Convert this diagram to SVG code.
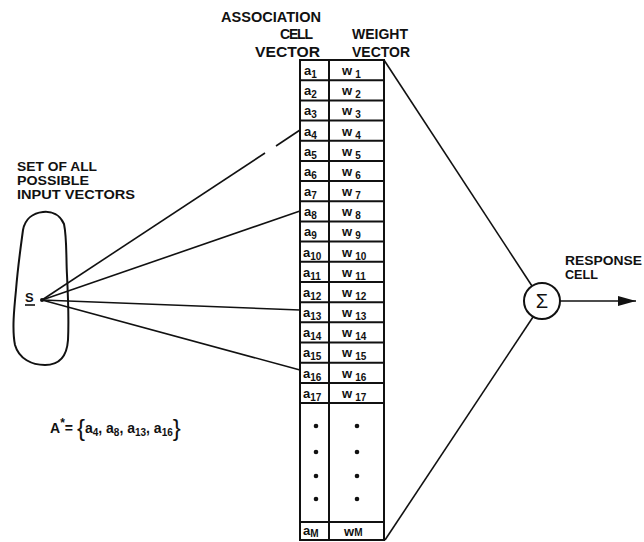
<svg xmlns="http://www.w3.org/2000/svg" width="644" height="542" viewBox="0 0 644 542">
<defs>
<style>
.lbl{font-family:"Liberation Sans",Arial,sans-serif;font-size:13px;font-weight:bold;fill:#111}
.cl{font-family:"Liberation Sans",Arial,sans-serif;font-size:13px;font-weight:bold;fill:#111}
.sub{font-size:10px}
.ln{stroke:#111;stroke-width:1.6;fill:none}
.box{stroke:#111;stroke-width:2;fill:none}
.dot{fill:#111}
</style>
<marker id="arr" markerWidth="18" markerHeight="10" refX="18" refY="5" orient="auto" markerUnits="userSpaceOnUse">
<path d="M0,0 L18,5 L0,10 Z" fill="#111"/>
</marker>
</defs>
<rect width="644" height="542" fill="#fff"/>

<g id="headers">
<text class="lbl" x="221" y="22" textLength="100" lengthAdjust="spacingAndGlyphs" style="font-size:14px">ASSOCIATION</text>
<text class="lbl" x="280" y="39" textLength="33" lengthAdjust="spacing" style="font-size:14px">CELL</text>
<text class="lbl" x="255" y="57" textLength="65" lengthAdjust="spacingAndGlyphs" style="font-size:14px">VECTOR</text>
<text class="lbl" x="352" y="39" textLength="56" lengthAdjust="spacingAndGlyphs" style="font-size:14px">WEIGHT</text>
<text class="lbl" x="352" y="57" textLength="58" lengthAdjust="spacingAndGlyphs" style="font-size:14px">VECTOR</text>
</g>

<g id="input-set">
<text class="lbl" x="17" y="171" textLength="80" lengthAdjust="spacingAndGlyphs" style="font-size:12px">SET OF ALL</text>
<text class="lbl" x="17" y="185" textLength="72" lengthAdjust="spacingAndGlyphs" style="font-size:12px">POSSIBLE</text>
<text class="lbl" x="17" y="199" textLength="118" lengthAdjust="spacingAndGlyphs" style="font-size:12px">INPUT VECTORS</text>
<path class="box" stroke-width="2.5" d="M43,212 C52,211 60,215 64,224 C67,238 66,258 67,275 C68,295 69,320 68,340 C67,355 60,365 45,365 C32,365 19,359 15,345 C12,330 14,310 16,290 C18,265 21,245 23,230 C25,219 33,213 43,212 Z"/>
<text class="lbl" x="25" y="302">S</text>
<line class="ln" x1="25" y1="305" x2="35" y2="305"/>
<circle class="dot" cx="42" cy="300" r="2"/>
</g>

<g id="association-vector">
<rect class="box" x="300" y="60" width="84" height="480"/>
<line class="box" x1="329" y1="60" x2="329" y2="540"/>
<g class="box">
<line x1="300" y1="80.2" x2="384" y2="80.2"/>
<line x1="300" y1="100.4" x2="384" y2="100.4"/>
<line x1="300" y1="120.5" x2="384" y2="120.5"/>
<line x1="300" y1="140.7" x2="384" y2="140.7"/>
<line x1="300" y1="160.9" x2="384" y2="160.9"/>
<line x1="300" y1="181.1" x2="384" y2="181.1"/>
<line x1="300" y1="201.3" x2="384" y2="201.3"/>
<line x1="300" y1="221.4" x2="384" y2="221.4"/>
<line x1="300" y1="241.6" x2="384" y2="241.6"/>
<line x1="300" y1="261.8" x2="384" y2="261.8"/>
<line x1="300" y1="282" x2="384" y2="282"/>
<line x1="300" y1="302.2" x2="384" y2="302.2"/>
<line x1="300" y1="322.3" x2="384" y2="322.3"/>
<line x1="300" y1="342.5" x2="384" y2="342.5"/>
<line x1="300" y1="362.7" x2="384" y2="362.7"/>
<line x1="300" y1="382.9" x2="384" y2="382.9"/>
<line x1="300" y1="403" x2="384" y2="403"/>
<line x1="300" y1="522" x2="384" y2="522"/>
</g>
<g class="cl">
<text x="304" y="75">a<tspan class="sub" dy="3">1</tspan></text>
<text x="304" y="95">a<tspan class="sub" dy="3">2</tspan></text>
<text x="304" y="115">a<tspan class="sub" dy="3">3</tspan></text>
<text x="304" y="136">a<tspan class="sub" dy="3">4</tspan></text>
<text x="304" y="156">a<tspan class="sub" dy="3">5</tspan></text>
<text x="304" y="176">a<tspan class="sub" dy="3">6</tspan></text>
<text x="304" y="196">a<tspan class="sub" dy="3">7</tspan></text>
<text x="304" y="216">a<tspan class="sub" dy="3">8</tspan></text>
<text x="304" y="236">a<tspan class="sub" dy="3">9</tspan></text>
<text x="303" y="257">a<tspan class="sub" dy="3">10</tspan></text>
<text x="303" y="277">a<tspan class="sub" dy="3">11</tspan></text>
<text x="303" y="297">a<tspan class="sub" dy="3">12</tspan></text>
<text x="303" y="317">a<tspan class="sub" dy="3">13</tspan></text>
<text x="303" y="337">a<tspan class="sub" dy="3">14</tspan></text>
<text x="303" y="357">a<tspan class="sub" dy="3">15</tspan></text>
<text x="303" y="378">a<tspan class="sub" dy="3">16</tspan></text>
<text x="303" y="398">a<tspan class="sub" dy="3">17</tspan></text>
<text x="303" y="535">a<tspan class="sub" dy="2">M</tspan></text>
</g>
<circle class="dot" cx="316" cy="426" r="2.3"/>
<circle class="dot" cx="316" cy="452" r="2.3"/>
<circle class="dot" cx="316" cy="476" r="2.3"/>
<circle class="dot" cx="316" cy="499" r="2.3"/>
</g>

<g id="weight-vector">
<g class="cl">
<text x="342" y="75">w<tspan class="sub" dx="3" dy="3">1</tspan></text>
<text x="342" y="95">w<tspan class="sub" dx="3" dy="3">2</tspan></text>
<text x="342" y="115">w<tspan class="sub" dx="3" dy="3">3</tspan></text>
<text x="342" y="136">w<tspan class="sub" dx="3" dy="3">4</tspan></text>
<text x="342" y="156">w<tspan class="sub" dx="3" dy="3">5</tspan></text>
<text x="342" y="176">w<tspan class="sub" dx="3" dy="3">6</tspan></text>
<text x="342" y="196">w<tspan class="sub" dx="3" dy="3">7</tspan></text>
<text x="342" y="216">w<tspan class="sub" dx="3" dy="3">8</tspan></text>
<text x="342" y="236">w<tspan class="sub" dx="3" dy="3">9</tspan></text>
<text x="342" y="257">w<tspan class="sub" dx="3" dy="3">10</tspan></text>
<text x="342" y="277">w<tspan class="sub" dx="3" dy="3">11</tspan></text>
<text x="342" y="297">w<tspan class="sub" dx="3" dy="3">12</tspan></text>
<text x="342" y="317">w<tspan class="sub" dx="3" dy="3">13</tspan></text>
<text x="342" y="337">w<tspan class="sub" dx="3" dy="3">14</tspan></text>
<text x="342" y="357">w<tspan class="sub" dx="3" dy="3">15</tspan></text>
<text x="342" y="378">w<tspan class="sub" dx="3" dy="3">16</tspan></text>
<text x="342" y="398">w<tspan class="sub" dx="3" dy="3">17</tspan></text>
<text x="344" y="536">w<tspan class="sub">M</tspan></text>
</g>
<circle class="dot" cx="357" cy="426" r="2.3"/>
<circle class="dot" cx="357" cy="452" r="2.3"/>
<circle class="dot" cx="357" cy="476" r="2.3"/>
<circle class="dot" cx="357" cy="499" r="2.3"/>
</g>

<g id="response-cell">
<circle class="box" cx="542" cy="301" r="18"/>
<text class="lbl" x="542" y="308" text-anchor="middle" style="font-size:20px;font-weight:normal">Σ</text>
<text class="lbl" x="565" y="265" textLength="77" lengthAdjust="spacingAndGlyphs" style="font-size:12px">RESPONSE</text>
<text class="lbl" x="565" y="279" textLength="33" lengthAdjust="spacingAndGlyphs" style="font-size:12px">CELL</text>
</g>

<g id="set-expression">
<text class="cl" x="50" y="433" style="font-size:14px">A<tspan style="font-size:12px" dy="-6">*</tspan><tspan dy="6">= </tspan><tspan style="font-size:24px;font-weight:normal" dy="3">{</tspan><tspan dy="-3">a</tspan><tspan class="sub" dy="3">4</tspan><tspan dy="-3">, a</tspan><tspan class="sub" dy="3">8</tspan><tspan dy="-3">, a</tspan><tspan class="sub" dy="3">13</tspan><tspan dy="-3">, a</tspan><tspan class="sub" dy="3">16</tspan><tspan style="font-size:24px;font-weight:normal" dy="0">}</tspan></text>
</g>

<g id="connectors">
<line class="ln" x1="42" y1="300" x2="265" y2="153"/>
<line class="ln" x1="276" y1="146" x2="300" y2="130"/>
<line class="ln" x1="42" y1="300" x2="300" y2="211"/>
<line class="ln" x1="42" y1="300" x2="300" y2="310"/>
<line class="ln" x1="42" y1="300" x2="300" y2="370"/>
<line class="ln" x1="384" y1="60" x2="532" y2="286"/>
<line class="ln" x1="385" y1="540" x2="533" y2="317"/>
<line class="ln" x1="560" y1="301" x2="636" y2="301" marker-end="url(#arr)"/>
</g>
</svg>
